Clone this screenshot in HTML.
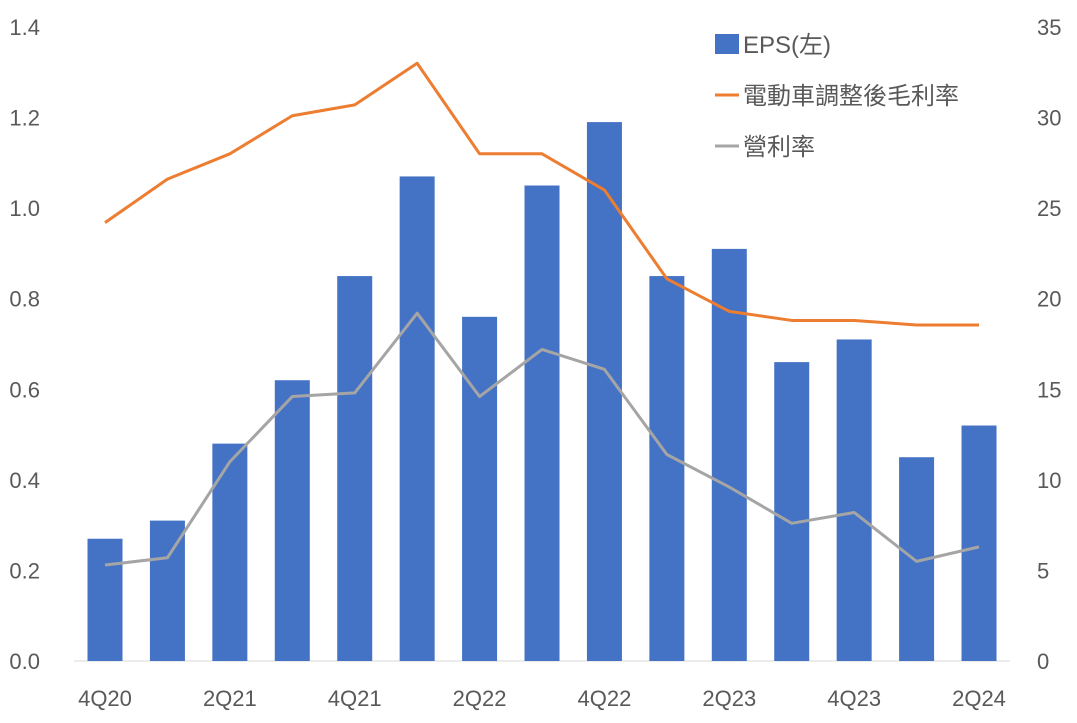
<!DOCTYPE html>
<html><head><meta charset="utf-8"><style>
body{margin:0;background:#fff;}
svg text{font-family:"Liberation Sans","Noto Sans CJK TC",sans-serif;fill:#595959;}
</style></head><body>
<svg id="chart" width="1077" height="718" xmlns="http://www.w3.org/2000/svg">
<g id="axes"></g><g id="bars"></g><g id="lines"></g>
<g>
<rect x="715" y="34" width="24" height="20" fill="#4472C4"/>
<text x="743" y="53" font-size="24">EPS(左)</text>
<line x1="715" y1="95" x2="739" y2="95" stroke="#ED7D31" stroke-width="3"/>
<text x="743" y="104" font-size="24">電動車調整後毛利率</text>
<line x1="715" y1="146" x2="739" y2="146" stroke="#A5A5A5" stroke-width="3"/>
<text x="743" y="155" font-size="24">營利率</text>
</g>
</svg>
<script>
const categories=["4Q20","1Q21","2Q21","3Q21","4Q21","1Q22","2Q22","3Q22","4Q22","1Q23","2Q23","3Q23","4Q23","1Q24","2Q24"];
const eps=[0.27,0.31,0.48,0.62,0.85,1.07,0.76,1.05,1.19,0.85,0.91,0.66,0.71,0.45,0.52];
const grossMargin=[24.2,26.6,28.0,30.1,30.7,33.0,28.0,28.0,26.0,21.1,19.3,18.8,18.8,18.55,18.55];
const opMargin=[5.3,5.7,11.0,14.6,14.8,19.2,14.6,17.2,16.1,11.4,9.6,7.6,8.2,5.5,6.3];
const leftTicks=["0.0","0.2","0.4","0.6","0.8","1.0","1.2","1.4"];
const rightTicks=["0","5","10","15","20","25","30","35"];
const NS="http://www.w3.org/2000/svg";
const y0=661,yTop=27;
const yL=v=>y0-(v/1.4)*(y0-yTop);
const yR=v=>y0-(v/35)*(y0-yTop);
const xC=i=>105+i*62.43;
function mk(tag,attrs,parent){const e=document.createElementNS(NS,tag);for(const k in attrs)e.setAttribute(k,attrs[k]);parent.appendChild(e);return e;}
const axes=document.getElementById('axes'),bars=document.getElementById('bars'),lines=document.getElementById('lines');
leftTicks.forEach(t=>{const e=mk('text',{x:40,y:yL(+t)+8,'font-size':22,'text-anchor':'end'},axes);e.textContent=t;

});
rightTicks.forEach(t=>{const e=mk('text',{x:1037,y:yR(+t)+8,'font-size':22},axes);e.textContent=t;

});
categories.forEach((c,i)=>{if(i%2)return;const e=mk('text',{x:xC(i),y:706,'font-size':22,'text-anchor':'middle'},axes);e.textContent=c;

});
eps.forEach((v,i)=>{const r=mk('rect',{x:xC(i)-17.5,y:yL(v),width:35,height:y0-yL(v),fill:'#4472C4'},bars);

});
const base=mk('line',{x1:74,x2:1010,y1:y0,y2:y0,stroke:'#D9D9D9','stroke-width':1},axes);


function line(data,color,name){const p=mk('polyline',{points:data.map((v,i)=>xC(i)+','+yR(v)).join(' '),fill:'none',stroke:color,'stroke-width':3,'stroke-linejoin':'round'},lines);

}
line(grossMargin,'#ED7D31','gross-margin-line');
line(opMargin,'#A5A5A5','operating-margin-line');
</script>
</body></html>
